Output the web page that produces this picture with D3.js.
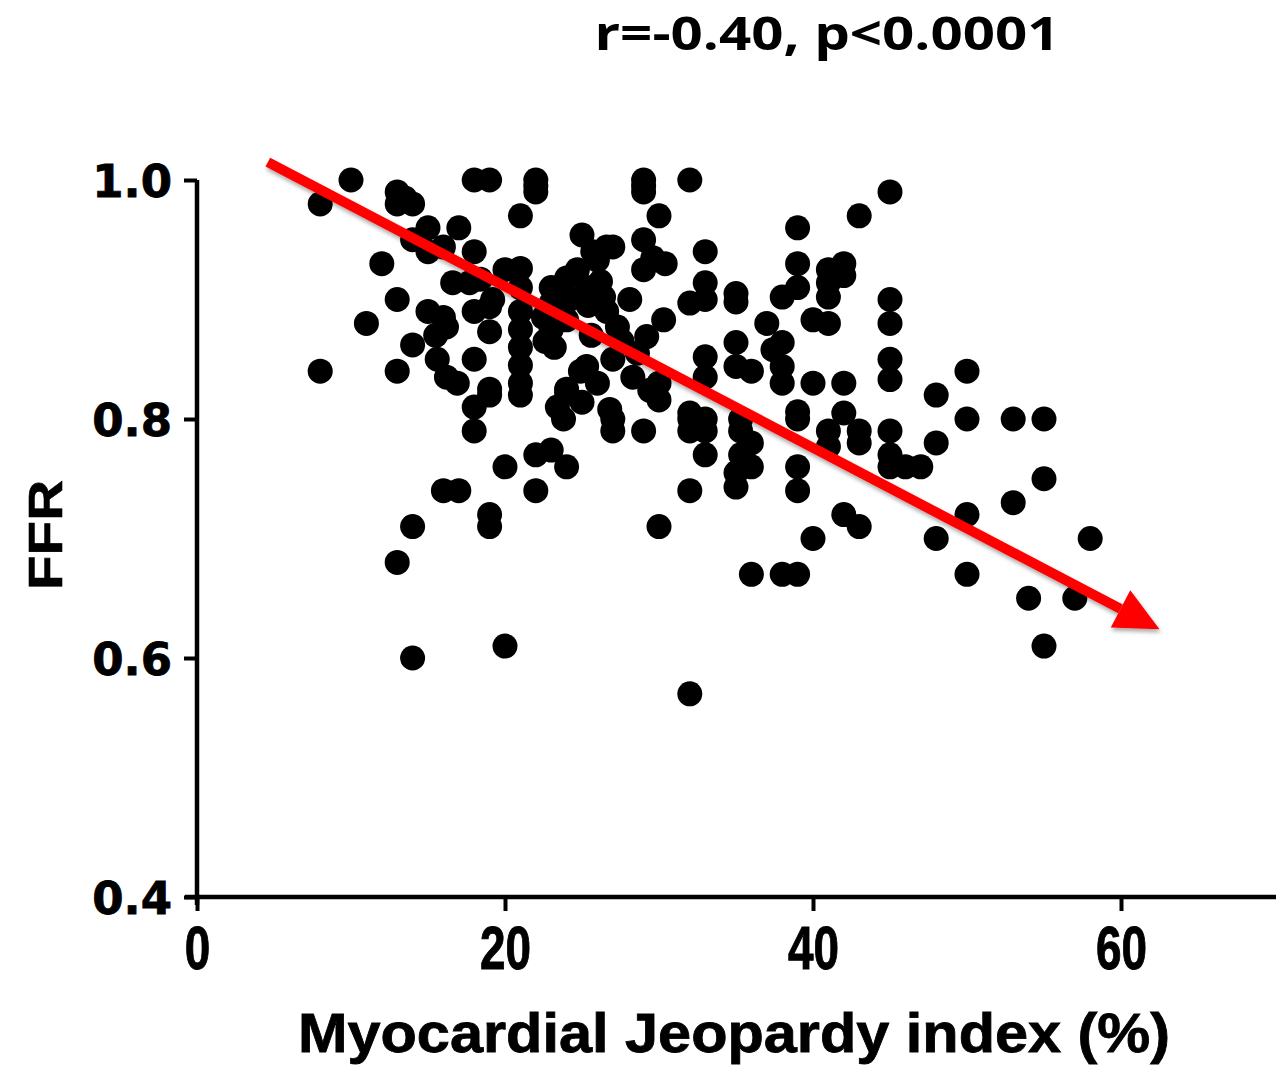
<!DOCTYPE html>
<html>
<head>
<meta charset="utf-8">
<script src="https://cdn.jsdelivr.net/npm/d3@7"></script>
<style>
  html, body { margin: 0; padding: 0; background: #fff; }
  svg { display: block; }
</style>
</head>
<body>
<svg id="chart" width="1276" height="1067"></svg>
<script>
// ---- data ----
const mji = [
  8, 8, 10, 11, 12,
  13, 13.5, 14, 13, 13, 13, 13,
  14, 14, 14, 14,
  15, 15, 15, 15.6, 15.5,
  16, 16.6, 16, 16.2, 16.2, 16,
  17, 17.7, 16.9, 17,
  18, 18, 18.4, 18, 18, 18, 18,
  19, 19, 19, 19, 19, 19, 19, 19.2,
  20, 20, 20,
  21, 21, 21, 21, 21, 21, 21, 21, 21,
  22, 22, 22, 22, 22, 22.5, 22.6,
  23, 23, 23, 23.4, 23, 23.2,
  24, 24, 24, 23.8, 24, 24, 24.2,
  25, 24.7, 25.3, 25.7, 25.3, 24.9, 25, 25.4, 25.6,
  26.6, 26, 26.4, 26.6, 26, 26.8, 26.2,
  27, 27.3, 27, 27, 27, 27.6,
  28.1, 28.6, 28.3,
  29, 29, 29, 29, 29, 29.6, 29.2, 29.4, 29,
  30, 30.3, 30, 30, 30, 30.4,
  32, 32, 32, 32, 32, 32, 32,
  33, 33, 33, 33, 33, 33, 33, 33,
  35, 35, 35, 35, 35.3, 35.3, 35.3, 35, 35,
  36, 36, 36, 36,
  37, 37.4,
  38, 38, 38, 38, 38,
  39, 39, 39, 39, 39, 39, 39, 39,
  40, 40, 40,
  41, 41, 41, 41, 41, 41,
  42, 42, 42, 42, 42,
  43, 43, 43, 43,
  45, 45, 45, 45, 45, 45, 45, 45,
  46, 47,
  48, 48, 48,
  50, 50, 50, 50,
  53, 53, 54,
  55, 55, 55,
  57, 58
];
const ffr = [
  0.98, 0.84, 1.0, 0.88, 0.93,
  0.99, 0.985, 0.98, 0.98, 0.90, 0.84, 0.68,
  0.862, 0.71, 0.60, 0.95,
  0.96, 0.94, 0.89, 0.85, 0.87,
  0.944, 0.914, 0.885, 0.877, 0.835, 0.74,
  0.96, 0.914, 0.83, 0.74,
  1.0, 0.94, 0.917, 0.89, 0.85, 0.81, 0.79,
  1.0, 0.894, 0.873, 0.825, 0.82, 0.72, 0.71, 0.90,
  0.925, 0.76, 0.61,
  0.97, 0.926, 0.91, 0.89, 0.875, 0.86, 0.845, 0.83, 0.82,
  1.0, 0.995, 0.99, 0.77, 0.74, 0.885, 0.865,
  0.91, 0.897, 0.875, 0.81, 0.774, 0.86,
  0.918, 0.883, 0.822, 0.80, 0.76, 0.825, 0.90,
  0.954, 0.925, 0.91, 0.94, 0.844, 0.84, 0.814, 0.895, 0.87,
  0.944, 0.933, 0.902, 0.89, 0.83, 0.808, 0.915,
  0.944, 0.877, 0.85, 0.80, 0.79, 0.865,
  0.90, 0.855, 0.835,
  1.0, 0.99, 0.95, 0.925, 0.79, 0.935, 0.869, 0.824, 0.995,
  0.97, 0.883, 0.83, 0.816, 0.71, 0.93,
  1.0, 0.897, 0.80, 0.79, 0.74, 0.57, 0.805,
  0.94, 0.914, 0.90, 0.852, 0.835, 0.79, 0.77, 0.80,
  0.905, 0.898, 0.864, 0.844, 0.80, 0.79, 0.77, 0.743, 0.755,
  0.84, 0.78, 0.76, 0.67,
  0.88, 0.858,
  0.902, 0.864, 0.844, 0.83, 0.67,
  0.96, 0.93, 0.91, 0.806, 0.80, 0.76, 0.74, 0.67,
  0.883, 0.83, 0.70,
  0.914, 0.902, 0.88, 0.79, 0.777, 0.925,
  0.93, 0.92, 0.83, 0.805, 0.72,
  0.97, 0.79, 0.78, 0.71,
  0.99, 0.90, 0.88, 0.85, 0.833, 0.79, 0.77, 0.76,
  0.76, 0.76,
  0.82, 0.78, 0.70,
  0.84, 0.80, 0.72, 0.67,
  0.80, 0.73, 0.65,
  0.80, 0.75, 0.61,
  0.65, 0.70
];
const xTicks = [0, 20, 40, 60];
const yTicks = [0.4, 0.6, 0.8, 1.0];
const xDomain = [0, 70];
const yDomain = [0.4, 1.0];
const trendArrow = { from: [4.6, 1.015], to: [62.5, 0.624] };
const titleText = "r=-0.40, p<0.0001";
const xTitle = "Myocardial Jeopardy index (%)";
const yTitle = "FFR";

// ---- layout ----
const svg = d3.select("#chart");
const mLeft = 197, mRight = 1275, mTop = 180, mBottom = 897;

const x = d3.scaleLinear().domain(xDomain).range([mLeft, mRight]);
const y = d3.scaleLinear().domain(yDomain).range([mBottom, mTop]);

// points
svg.append("g")
  .selectAll("circle")
  .data(mji.map((v, i) => [v, ffr[i]]))
  .join("circle")
  .attr("cx", d => x(d[0]))
  .attr("cy", d => y(d[1]))
  .attr("r", 12.5)
  .attr("fill", "#000");

// axes
const xAxis = svg.append("g")
  .attr("transform", `translate(0,${mBottom})`)
  .call(d3.axisBottom(x).tickValues(xTicks).tickSize(14).tickSizeOuter(0).tickPadding(14).tickFormat(d3.format("d")));
const yAxis = svg.append("g")
  .attr("transform", `translate(${mLeft},0)`)
  .call(d3.axisLeft(y).tickValues(yTicks).tickSize(13).tickSizeOuter(0).tickPadding(12).tickFormat(d3.format(".1f")));

[xAxis, yAxis].forEach(g => {
  g.select(".domain").attr("stroke", "#000").attr("stroke-width", 4.5);
  g.selectAll(".tick line").attr("stroke", "#000").attr("stroke-width", 4);
});
xAxis.select(".domain").attr("d", `M${mLeft - 12},0H${mRight + 2}`);
yAxis.select(".domain").attr("d", `M0,${mTop}V${mBottom + 8}`);

xAxis.selectAll(".tick text")
  .attr("fill", "#000")
  .style("font-family", "'Liberation Sans', Arial, sans-serif")
  .style("font-weight", "bold")
  .style("font-size", "62px")
  .attr("dy", "0.71em")
  .attr("transform", "scale(0.74,1)")
  .attr("stroke", "#000").attr("stroke-width", 1);

yAxis.selectAll(".tick text")
  .attr("fill", "#000")
  .style("font-family", "'DejaVu Sans', sans-serif")
  .style("font-weight", "bold")
  .style("font-size", "45px")
  .attr("dy", "0.36em")
  .attr("stroke", "#000").attr("stroke-width", 0.8);

// axis titles
svg.append("text")
  .attr("x", (298 + 1170) / 2).attr("y", 1052)
  .attr("text-anchor", "middle")
  .attr("textLength", 872).attr("lengthAdjust", "spacingAndGlyphs")
  .style("font-family", "'Liberation Sans', Arial, sans-serif")
  .style("font-weight", "bold").style("font-size", "56px")
  .attr("stroke", "#000").attr("stroke-width", 0.8)
  .text(xTitle);

svg.append("text")
  .attr("transform", "translate(62,535) rotate(-90)")
  .attr("text-anchor", "middle")
  .attr("textLength", 110).attr("lengthAdjust", "spacingAndGlyphs")
  .style("font-family", "'Liberation Sans', Arial, sans-serif")
  .style("font-weight", "bold").style("font-size", "48px")
  .attr("stroke", "#000").attr("stroke-width", 0.6)
  .text(yTitle);

// title
svg.append("text")
  .attr("x", 827).attr("y", 50)
  .attr("text-anchor", "middle")
  .attr("textLength", 465).attr("lengthAdjust", "spacingAndGlyphs")
  .style("font-family", "'Open Sans', 'Noto Sans', sans-serif")
  .style("font-weight", "bold").style("font-size", "47px")
  .text(titleText);

// trend arrow
const defs = svg.append("defs");
const f = defs.append("filter").attr("id", "shadow").attr("x", "-10%").attr("y", "-10%").attr("width", "120%").attr("height", "130%");
f.append("feDropShadow").attr("dx", 1).attr("dy", 3).attr("stdDeviation", 2).attr("flood-color", "#000").attr("flood-opacity", 0.35);

const x0 = x(trendArrow.from[0]), y0 = y(trendArrow.from[1]);
const x1 = x(trendArrow.to[0]), y1 = y(trendArrow.to[1]);
const ang = Math.atan2(y1 - y0, x1 - x0);
const headLen = 44, headHalf = 21;
const bx = x1 - headLen * Math.cos(ang), by = y1 - headLen * Math.sin(ang);
const arrow = svg.append("g").attr("filter", "url(#shadow)");
arrow.append("line")
  .attr("x1", x0).attr("y1", y0).attr("x2", bx).attr("y2", by)
  .attr("stroke", "#ff0000").attr("stroke-width", 10);
arrow.append("path")
  .attr("d", `M${x1},${y1}L${bx + headHalf * Math.sin(ang)},${by - headHalf * Math.cos(ang)}L${bx - headHalf * Math.sin(ang)},${by + headHalf * Math.cos(ang)}Z`)
  .attr("fill", "#ff0000");
</script>
</body>
</html>
